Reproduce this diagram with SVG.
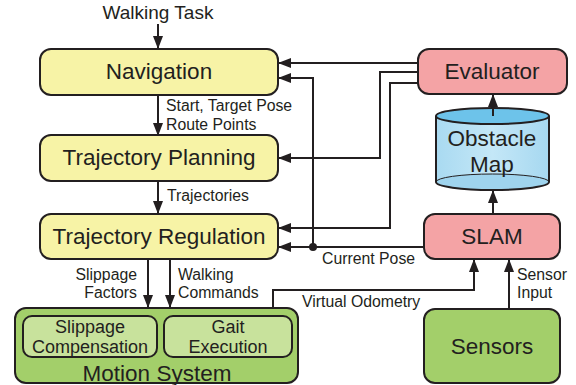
<svg xmlns="http://www.w3.org/2000/svg" width="576" height="385" viewBox="0 0 576 385">
  <defs>
    <marker id="arrow" viewBox="0 0 13 10" refX="13" refY="5" markerWidth="6.5" markerHeight="5" orient="auto" markerUnits="strokeWidth">
      <path d="M0,0 L13,5 L0,10 z" fill="#231f20"/>
    </marker>
    <linearGradient id="cylBody" x1="0" y1="0" x2="1" y2="0">
      <stop offset="0" stop-color="#a9daf1"/>
      <stop offset="0.5" stop-color="#c4e7f7"/>
      <stop offset="1" stop-color="#a6d8f0"/>
    </linearGradient>
  </defs>
  <style>
    text { font-family: "Liberation Sans", Arial, sans-serif; fill: #231f20; }
    .box { stroke: #231f20; stroke-width: 2; }
    .yellow { fill: #f7f3a6; }
    .pink { fill: #f4a3a5; }
    .green { fill: #a3cf6a; }
    .lightgreen { fill: #c8e29c; }
    .big { font-size: 22.5px; text-anchor: middle; }
    .mid { font-size: 18px; text-anchor: middle; }
    .lbl { font-size: 15.8px; }
    .conn { fill: none; stroke: #231f20; stroke-width: 2; }
  </style>

  <!-- connectors -->
  <g id="connectors">
    <path class="conn" d="M158,24 V49" marker-end="url(#arrow)"/>
    <path class="conn" d="M158,95 V136" marker-end="url(#arrow)"/>
    <path class="conn" d="M158,181 V214" marker-end="url(#arrow)"/>
    <path class="conn" d="M148,259 V308" marker-end="url(#arrow)"/>
    <path class="conn" d="M170,259 V308" marker-end="url(#arrow)"/>
    <!-- evaluator feedback -->
    <path class="conn" d="M418,63 H278" marker-end="url(#arrow)"/>
    <path class="conn" d="M418,72 H380 V158 H278" marker-end="url(#arrow)"/>
    <path class="conn" d="M418,83 H390 V228 H278" marker-end="url(#arrow)"/>
    <!-- current pose -->
    <path class="conn" d="M424,247 H278" marker-end="url(#arrow)"/>
    <path class="conn" d="M313,247 V78 H278" marker-end="url(#arrow)"/>
    <circle cx="313" cy="247" r="4" fill="#231f20"/>
    <!-- virtual odometry -->
    <path class="conn" d="M273,308 V290 H474 V259" marker-end="url(#arrow)"/>
    <!-- sensors to slam -->
    <path class="conn" d="M509,309 V259" marker-end="url(#arrow)"/>
    <!-- slam to map -->
    <path class="conn" d="M493,214 V190" marker-end="url(#arrow)"/>
    <text class="lbl" x="166" y="111">Start, Target Pose</text>
    <text class="lbl" x="166" y="130">Route Points</text>
    <text class="lbl" x="167" y="201">Trajectories</text>
    <text class="lbl" x="137" y="280" text-anchor="end">Slippage</text>
    <text class="lbl" x="137" y="298" text-anchor="end">Factors</text>
    <text class="lbl" x="178" y="280">Walking</text>
    <text class="lbl" x="178" y="298">Commands</text>
    <text class="lbl" x="322" y="264">Current Pose</text>
    <text class="lbl" x="302" y="307">Virtual Odometry</text>
    <text class="lbl" x="517" y="280">Sensor</text>
    <text class="lbl" x="517" y="298">Input</text>
  </g>

  <text x="158" y="19" font-size="19px" text-anchor="middle">Walking Task</text>

  <g id="navigation">
    <rect class="box yellow" x="40" y="49" width="238" height="46" rx="11"/>
    <text class="big" x="159" y="79">Navigation</text>
  </g>

  <g id="trajectory-planning">
    <rect class="box yellow" x="40" y="135" width="238" height="46" rx="11"/>
    <text class="big" x="159" y="165">Trajectory Planning</text>
  </g>

  <g id="trajectory-regulation">
    <rect class="box yellow" x="40" y="214" width="238" height="45" rx="11"/>
    <text class="big" x="159" y="244">Trajectory Regulation</text>
  </g>

  <g id="motion-system">
    <rect class="box green" x="15" y="308" width="283" height="75" rx="11"/>
    <rect class="box lightgreen" x="23" y="316" width="134" height="41" rx="9"/>
    <rect class="box lightgreen" x="164" y="316" width="128" height="41" rx="9"/>
    <text class="mid" x="90" y="333">Slippage</text>
    <text class="mid" x="90" y="353">Compensation</text>
    <text class="mid" x="228" y="333">Gait</text>
    <text class="mid" x="228" y="353">Execution</text>
    <text class="big" x="157" y="381">Motion System</text>
  </g>

  <g id="evaluator">
    <rect class="box pink" x="418" y="49" width="149" height="45" rx="11"/>
    <text class="big" x="492" y="79">Evaluator</text>
  </g>

  <g id="obstacle-map">
    <path fill="url(#cylBody)" d="M436,116 V182 A56.5,8 0 0 0 549,182 V116 z"/>
    <path fill="#9fd4ee" d="M436,182 A56.5,8 0 0 0 549,182 A56.5,8 0 0 0 436,182 z"/>
    <path fill="none" stroke="#231f20" stroke-width="1" d="M436,182 A56.5,8 0 0 1 549,182"/>
    <path class="box" fill="none" d="M436,116 V182 A56.5,8 0 0 0 549,182 V116"/>
    <ellipse class="box" cx="492.5" cy="116" rx="56.5" ry="8" fill="#6dc3ea"/>
    <path class="conn" d="M493,116 V94" marker-end="url(#arrow)"/>
    <text class="big" x="492" y="146">Obstacle</text>
    <text class="big" x="492" y="172">Map</text>
  </g>

  <g id="slam">
    <rect class="box pink" x="424" y="214" width="136" height="45" rx="11"/>
    <text class="big" x="492" y="244">SLAM</text>
  </g>

  <g id="sensors">
    <rect class="box green" x="424" y="309" width="136" height="74" rx="11"/>
    <text class="big" x="492" y="354">Sensors</text>
  </g>
</svg>
